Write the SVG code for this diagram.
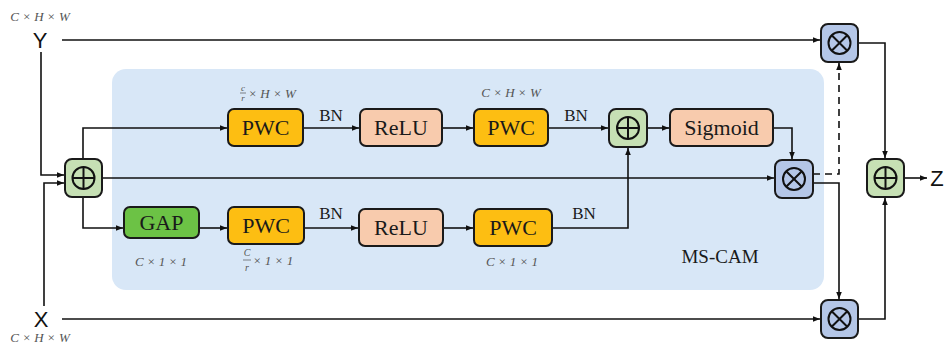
<svg xmlns="http://www.w3.org/2000/svg" width="946" height="345" viewBox="0 0 946 345">
<defs>
<marker id="ah" viewBox="0 0 10 10" refX="10" refY="5" markerWidth="7" markerHeight="7" orient="auto" markerUnits="userSpaceOnUse">
<path d="M0,1 L10,5 L0,9 Z" fill="#111"/>
</marker>
<style>
.bx{stroke:#1a1a1a;stroke-width:2}
.pwc{fill:#FDBE12}
.pk{fill:#F8CBAD}
.gap{fill:#6CC245}
.pl{fill:#C6E0B4}
.ml{fill:#B4C6E7}
.ln{fill:none;stroke:#111;stroke-width:1.6}
.sy{fill:none;stroke:#111;stroke-width:2}
.t{font-family:"Liberation Serif",serif;font-size:22px;fill:#1a1a1a;text-anchor:middle}
.bn{font-family:"Liberation Serif",serif;font-size:17px;fill:#1a1a1a;text-anchor:middle}
.sm{font-family:"Liberation Serif",serif;font-style:italic;font-size:13px;fill:#555;text-anchor:middle}
.io{font-family:"Liberation Sans",sans-serif;font-size:22px;fill:#111;text-anchor:middle}
</style>
</defs>
<rect x="112" y="69" width="712" height="221" rx="14" fill="#D8E7F7"/>
<g id="connectors">
<path class="ln" d="M62,40 H820" marker-end="url(#ah)"/>
<path class="ln" d="M41,52 V175 H64" marker-end="url(#ah)"/>
<path class="ln" d="M62,319 H820" marker-end="url(#ah)"/>
<path class="ln" d="M44,306 V183 H64" marker-end="url(#ah)"/>
<path class="ln" d="M83,159 V128 H227" marker-end="url(#ah)"/>
<path class="ln" d="M83,197 V228 H123" marker-end="url(#ah)"/>
<path class="ln" d="M102,178 H774" marker-end="url(#ah)"/>
<path class="ln" d="M303,128 H359" marker-end="url(#ah)"/>
<path class="ln" d="M442,128 H473" marker-end="url(#ah)"/>
<path class="ln" d="M548,128 H608" marker-end="url(#ah)"/>
<path class="ln" d="M647,128 H669" marker-end="url(#ah)"/>
<path class="ln" d="M773,128 H792 V159" marker-end="url(#ah)"/>
<path class="ln" d="M199,228 H227" marker-end="url(#ah)"/>
<path class="ln" d="M304,228 H358" marker-end="url(#ah)"/>
<path class="ln" d="M443,228 H473" marker-end="url(#ah)"/>
<path class="ln" d="M552,228 H628 V148" marker-end="url(#ah)"/>
<path class="ln" d="M813,174 H839 V63" stroke-dasharray="7,5" marker-end="url(#ah)"/>
<path class="ln" d="M813,183 H839 V299" marker-end="url(#ah)"/>
<path class="ln" d="M858,43 H885 V158" marker-end="url(#ah)"/>
<path class="ln" d="M858,319 H885 V198" marker-end="url(#ah)"/>
<path class="ln" d="M904,178 H927" marker-end="url(#ah)"/>
</g>
<g id="Y"><text class="sm" x="40" y="21">C × H × W</text><text class="io" x="40" y="48">Y</text></g>
<g id="X"><text class="io" x="41" y="327">X</text><text class="sm" x="40" y="342">C × H × W</text></g>
<g id="Z"><text class="io" x="937" y="186">Z</text></g>
<g id="add1"><rect class="bx pl" x="65" y="159" width="37" height="38" rx="7"/><circle class="sy" cx="83.5" cy="178" r="11"/><path class="sy" d="M72.5,178 H94.5 M83.5,167 V189"/></g>
<g id="pwc1"><rect class="bx pwc" x="228" y="109" width="75" height="37" rx="6"/><text class="t" x="265.5" y="135">PWC</text>
<text class="sm" x="243" y="91" style="font-size:9px">c</text><line x1="240" y1="93" x2="246" y2="93" stroke="#555" stroke-width="0.7"/><text class="sm" x="243" y="101" style="font-size:9px">r</text><text class="sm" x="272" y="98">× H × W</text></g>
<g id="relu1"><rect class="bx pk" x="360" y="109" width="82" height="37" rx="6"/><text class="t" x="401" y="135">ReLU</text></g>
<g id="pwc2"><rect class="bx pwc" x="474" y="109" width="74" height="37" rx="6"/><text class="t" x="511" y="135">PWC</text><text class="sm" x="511" y="97">C × H × W</text></g>
<g id="add2"><rect class="bx pl" x="609" y="109" width="38" height="38" rx="7"/><circle class="sy" cx="628" cy="128" r="11"/><path class="sy" d="M617,128 H639 M628,117 V139"/></g>
<g id="sigmoid"><rect class="bx pk" x="670" y="109" width="103" height="37" rx="6"/><text class="t" x="721.5" y="135">Sigmoid</text></g>
<g id="mulmid"><rect class="bx ml" x="775" y="160" width="38" height="38" rx="7"/><circle class="sy" cx="794" cy="179" r="11"/><path class="sy" d="M786.2,171.2 L801.8,186.8 M801.8,171.2 L786.2,186.8"/></g>
<g id="gap"><rect class="bx gap" x="124" y="207" width="75" height="31" rx="6"/><text class="t" x="161.5" y="230">GAP</text><text class="sm" x="161" y="266">C × 1 × 1</text></g>
<g id="pwc3"><rect class="bx pwc" x="228" y="207" width="76" height="37" rx="6"/><text class="t" x="266" y="233">PWC</text>
<text class="sm" x="247" y="256" style="font-size:10px">C</text><line x1="243" y1="260" x2="251" y2="260" stroke="#555" stroke-width="0.7"/><text class="sm" x="247" y="271" style="font-size:10px">r</text><text class="sm" x="273" y="265">× 1 × 1</text></g>
<g id="relu2"><rect class="bx pk" x="359" y="209" width="84" height="37" rx="6"/><text class="t" x="401" y="235">ReLU</text></g>
<g id="pwc4"><rect class="bx pwc" x="474" y="209" width="78" height="37" rx="6"/><text class="t" x="513" y="235">PWC</text><text class="sm" x="512" y="266">C × 1 × 1</text></g>
<g id="mstext"><text class="t" x="720" y="263" style="font-size:19px">MS-CAM</text></g>
<g id="bnlabels"><text class="bn" x="331" y="121">BN</text><text class="bn" x="576" y="121">BN</text><text class="bn" x="331" y="219">BN</text><text class="bn" x="584" y="219">BN</text></g>
<g id="multop"><rect class="bx ml" x="821" y="24" width="37" height="38" rx="7"/><circle class="sy" cx="839.5" cy="43" r="11"/><path class="sy" d="M831.7,35.2 L847.3,50.8 M847.3,35.2 L831.7,50.8"/></g>
<g id="mulbot"><rect class="bx ml" x="821" y="300" width="37" height="38" rx="7"/><circle class="sy" cx="839.5" cy="319" r="11"/><path class="sy" d="M831.7,311.2 L847.3,326.8 M847.3,311.2 L831.7,326.8"/></g>
<g id="addout"><rect class="bx pl" x="867" y="159" width="37" height="38" rx="7"/><circle class="sy" cx="885.5" cy="178" r="11"/><path class="sy" d="M874.5,178 H896.5 M885.5,167 V189"/></g>
</svg>
